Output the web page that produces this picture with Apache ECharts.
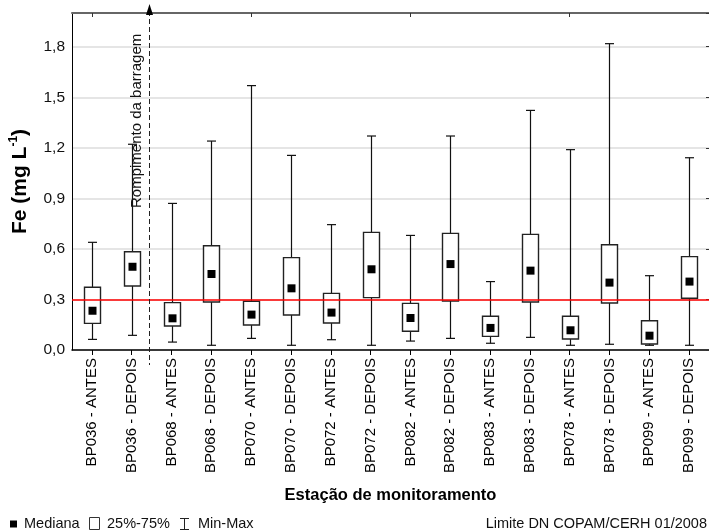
<!DOCTYPE html>
<html>
<head>
<meta charset="utf-8">
<script src="https://cdn.jsdelivr.net/npm/echarts@6/dist/echarts.min.js"></script>
<style>
html,body{margin:0;padding:0;background:#fff;}
#chart{width:709px;height:531px;}
</style>
</head>
<body>
<div id="chart"></div>
<script>
const categories = ['BP036 - ANTES','BP036 - DEPOIS','BP068 - ANTES','BP068 - DEPOIS','BP070 - ANTES','BP070 - DEPOIS','BP072 - ANTES','BP072 - DEPOIS','BP082 - ANTES','BP082 - DEPOIS','BP083 - ANTES','BP083 - DEPOIS','BP078 - ANTES','BP078 - DEPOIS','BP099 - ANTES','BP099 - DEPOIS'];
const minValues    = [0.063,0.087,0.047,0.028,0.069,0.028,0.061,0.028,0.053,0.069,0.040,0.075,0.028,0.034,0.028,0.028];
const q1Values     = [0.158,0.380,0.142,0.285,0.148,0.208,0.160,0.311,0.111,0.291,0.081,0.285,0.065,0.279,0.036,0.307];
const medianValues = [0.233,0.494,0.188,0.451,0.210,0.366,0.222,0.479,0.190,0.510,0.131,0.471,0.117,0.400,0.085,0.406];
const q3Values     = [0.372,0.583,0.281,0.619,0.289,0.548,0.336,0.698,0.277,0.692,0.200,0.686,0.200,0.625,0.174,0.554];
const maxValues    = [0.639,1.221,0.870,1.240,1.569,1.155,0.744,1.270,0.680,1.270,0.406,1.422,1.189,1.818,0.441,1.141];
const yTickLabels  = ['0,0','0,3','0,6','0,9','1,2','1,5','1,8'];
const yMin = 0, yMax = 2.0, yInterval = 0.3;
const limitValue = 0.3;
const breakCategoryPos = 1.44; // dam break marker between BP036 - DEPOIS and BP068 - ANTES

const FONT = 'Arial, "Liberation Sans", sans-serif';
const boxData = categories.map((c, i) => [i, minValues[i], q1Values[i], medianValues[i], q3Values[i], maxValues[i]]);

const chart = echarts.init(document.getElementById('chart'), null, {renderer: 'canvas'});

function renderBox(params, api) {
  const idx = api.value(0);
  const x = Math.round(api.coord([idx, 0])[0]) + 0.5;
  const yMinP = api.coord([idx, api.value(1)])[1];
  const yQ1 = api.coord([idx, api.value(2)])[1];
  const yMed = api.coord([idx, api.value(3)])[1];
  const yQ3 = api.coord([idx, api.value(4)])[1];
  const yMaxP = api.coord([idx, api.value(5)])[1];
  const boxW = 16, capW = 9, medW = 8;
  const lineStyle = {stroke: '#111', lineWidth: 1.2};
  return {
    type: 'group',
    children: [
      {type: 'line', shape: {x1: x, y1: yMaxP, x2: x, y2: yMinP}, style: lineStyle},
      {type: 'line', shape: {x1: x - capW/2, y1: yMaxP, x2: x + capW/2, y2: yMaxP}, style: lineStyle},
      {type: 'line', shape: {x1: x - capW/2, y1: yMinP, x2: x + capW/2, y2: yMinP}, style: lineStyle},
      {type: 'rect', shape: {x: x - boxW/2, y: yQ3, width: boxW, height: yQ1 - yQ3}, style: {fill: '#fff', stroke: '#222', lineWidth: 1.4}},
      {type: 'rect', shape: {x: x - medW/2, y: yMed - medW/2, width: medW, height: medW}, style: {fill: '#000'}}
    ]
  };
}

const option = {
  backgroundColor: '#fff',
  animation: false,
  textStyle: {fontFamily: FONT},
  grid: {left: 70, top: 13, width: 640, height: 337, containLabel: false},
  xAxis: [{
    type: 'category',
    data: categories,
    position: 'bottom',
    boundaryGap: true,
    axisLine: {show: true, onZero: false, lineStyle: {color: '#000', width: 1.5}},
    axisTick: {show: true, alignWithLabel: true, length: 5, lineStyle: {color: '#000'}},
    axisLabel: {rotate: 90, interval: 0, fontSize: 15, color: '#000', margin: 8, fontFamily: FONT},
    splitLine: {show: false},
    name: 'Estação de monitoramento',
    nameLocation: 'middle',
    nameGap: 137,
    nameTextStyle: {fontSize: 16.5, fontWeight: 'bold', color: '#000', fontFamily: FONT}
  }, {
    type: 'category',
    data: categories,
    position: 'top',
    boundaryGap: true,
    axisLine: {show: true, onZero: false, lineStyle: {color: '#666', width: 2}},
    axisTick: {show: true, alignWithLabel: true, inside: true, length: 4, lineStyle: {color: '#333'}},
    axisLabel: {show: false},
    splitLine: {show: false}
  }],
  yAxis: [{
    type: 'value',
    min: yMin, max: yMax, interval: yInterval,
    axisLine: {show: true, onZero: false, lineStyle: {color: '#000', width: 1}},
    axisTick: {show: false},
    axisLabel: {
      fontSize: 15.5, color: '#111', margin: 7, fontFamily: FONT, showMaxLabel: false,
      formatter: function (v) {
        const k = Math.round(v / yInterval);
        if (Math.abs(k * yInterval - v) > 1e-6) return '';
        return yTickLabels[k] || '';
      }
    },
    splitLine: {show: true, lineStyle: {color: '#dcdcdc', width: 1.5}},
    name: '{a|Fe (mg L}{s|-1}{a|)}',
    nameLocation: 'middle',
    nameGap: 40,
    nameTextStyle: {
      fontFamily: FONT,
      rich: {
        a: {fontSize: 21, fontWeight: 'bold', color: '#000', fontFamily: FONT, lineHeight: 24},
        s: {fontSize: 12, fontWeight: 'bold', color: '#000', fontFamily: FONT, verticalAlign: 'top', lineHeight: 24}
      }
    }
  }, {
    type: 'value',
    position: 'right',
    min: yMin, max: yMax, interval: yInterval,
    axisLine: {show: true, onZero: false, lineStyle: {color: '#666'}},
    axisTick: {show: true, inside: true, length: 3, lineStyle: {color: '#333'}},
    axisLabel: {show: false},
    splitLine: {show: false}
  }],
  series: [{
    type: 'custom',
    name: 'Fe',
    xAxisIndex: 0,
    yAxisIndex: 0,
    renderItem: renderBox,
    encode: {x: 0, y: [1, 2, 3, 4, 5]},
    data: boxData,
    z: 3,
    markLine: {
      silent: true,
      symbol: ['none', 'none'],
      label: {show: false},
      lineStyle: {color: '#ff0000', width: 1.6, type: 'solid'},
      data: [{yAxis: limitValue}],
      z: 5
    }
  }]
};
chart.setOption(option);

// dam-break marker and legend (positions computed from the axis scale)
const p1 = chart.convertToPixel({xAxisIndex: 0}, categories[Math.floor(breakCategoryPos)]);
const p2 = chart.convertToPixel({xAxisIndex: 0}, categories[Math.floor(breakCategoryPos) + 1]);
const lineX = Math.round(p1 + (p2 - p1) * (breakCategoryPos - Math.floor(breakCategoryPos))) + 0.5;
const gridTop = 13, gridBottom = 350;

chart.setOption({
  graphic: [
    {type: 'line', z: 10, shape: {x1: lineX, y1: gridTop - 2, x2: lineX, y2: gridBottom + 15},
      style: {stroke: '#222', lineWidth: 1, lineDash: [5, 3]}},
    {type: 'polygon', z: 10, shape: {points: [[lineX, 4], [lineX - 3.5, 15], [lineX + 3.5, 15]]},
      style: {fill: '#000'}},
    {type: 'text', z: 10, x: lineX - 5.5, y: 208, rotation: Math.PI / 2,
      style: {text: 'Rompimento da barragem', fontSize: 15, fontFamily: FONT, fill: '#111',
        textAlign: 'left', textVerticalAlign: 'bottom'}},
    // legend
    {type: 'rect', shape: {x: 10, y: 520.5, width: 7, height: 7}, style: {fill: '#000'}},
    {type: 'text', x: 24, y: 524, style: {text: 'Mediana', fontSize: 14.5, fontFamily: FONT, fill: '#111', textVerticalAlign: 'middle'}},
    {type: 'rect', shape: {x: 89.5, y: 517.5, width: 10, height: 12}, style: {fill: '#fff', stroke: '#333', lineWidth: 1}},
    {type: 'text', x: 107, y: 524, style: {text: '25%-75%', fontSize: 14.5, fontFamily: FONT, fill: '#111', textVerticalAlign: 'middle'}},
    {type: 'line', shape: {x1: 184.5, y1: 518, x2: 184.5, y2: 530}, style: {stroke: '#222', lineWidth: 1}},
    {type: 'line', shape: {x1: 180, y1: 518.5, x2: 189, y2: 518.5}, style: {stroke: '#222', lineWidth: 1}},
    {type: 'line', shape: {x1: 180, y1: 529.5, x2: 189, y2: 529.5}, style: {stroke: '#222', lineWidth: 1}},
    {type: 'text', x: 198, y: 524, style: {text: 'Min-Max', fontSize: 14.5, fontFamily: FONT, fill: '#111', textVerticalAlign: 'middle'}},
    {type: 'text', x: 707, y: 524, style: {text: 'Limite DN COPAM/CERH 01/2008', fontSize: 14.5, fontFamily: FONT, fill: '#111', textAlign: 'right', textVerticalAlign: 'middle'}}
  ]
});
</script>
</body>
</html>
